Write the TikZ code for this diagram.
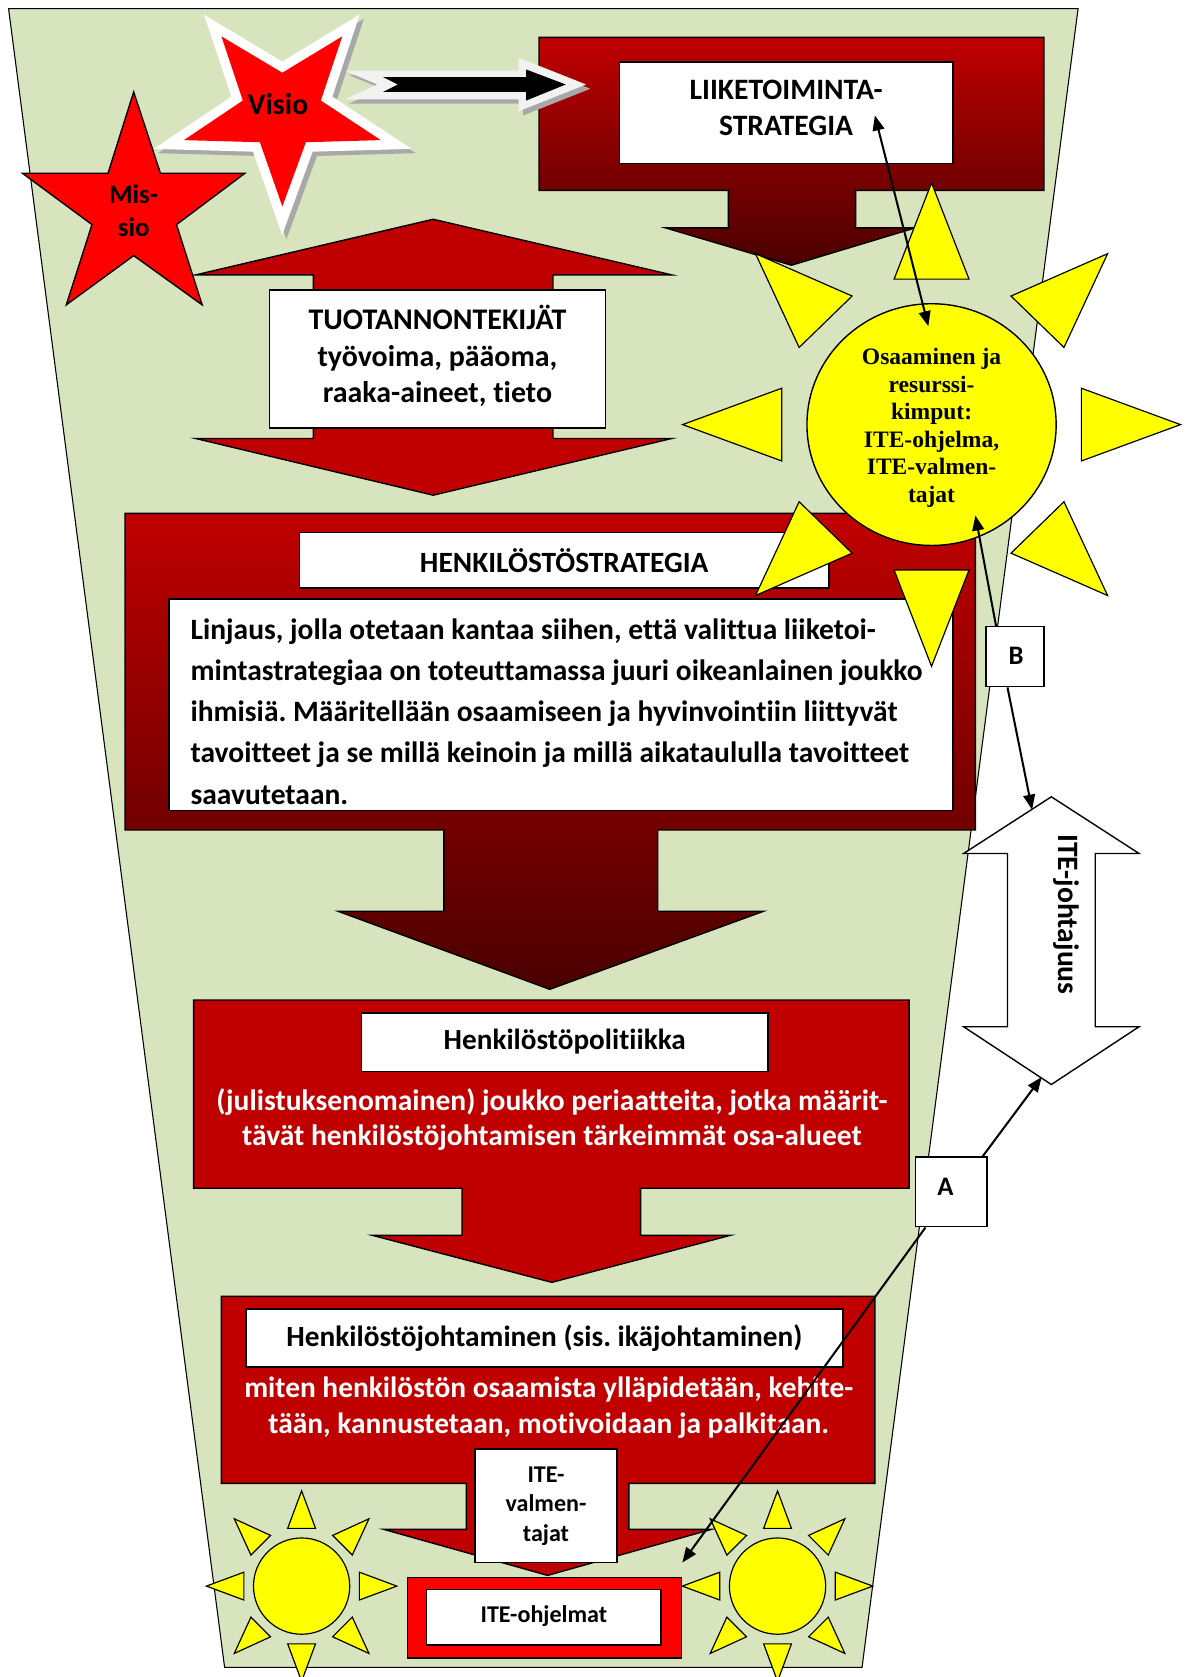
\documentclass[tikz,border=0pt]{standalone}
\usepackage{fontspec}
\setmainfont{Carlito}[Ligatures=NoCommon]
\newfontfamily\timesbf{Liberation Serif}
\usetikzlibrary{arrows.meta,calc,shapes.geometric}
\frenchspacing
\definecolor{bggreen}{HTML}{D7E4BD}
\definecolor{dred}{HTML}{C00000}
\definecolor{deepred}{HTML}{4A0000}
\definecolor{bred}{HTML}{FF0000}
\definecolor{sunyel}{HTML}{FFFF00}
\definecolor{shgray}{HTML}{A8A8A8}
\definecolor{paleg}{HTML}{F2F2F2}
\tikzset{
  outl/.style={draw=black, line width=1.3pt, line join=miter},
  wbox/.style={draw=black, fill=white, line width=1.4pt, inner sep=0pt},
  ray/.style={draw=black, fill=sunyel, line width=1.1pt, line join=miter},
  conn/.style={draw=black, line width=1.9pt, -{Triangle[length=14pt,width=11pt]}},
  dconn/.style={draw=black, line width=1.9pt, {Triangle[length=14pt,width=11pt]}-{Triangle[length=14pt,width=11pt]}},
  txt/.style n args={2}{font=\fontsize{#1}{#2}\selectfont\bfseries\frenchspacing, inner sep=0pt, align=center, text=black},
  wtxt/.style n args={2}{font=\fontsize{#1}{#2}\selectfont\bfseries\frenchspacing, inner sep=0pt, align=center, text=white},
}
\begin{document}
\begin{tikzpicture}[x=1pt,y=-1pt]
\useasboundingbox (0,0) rectangle (1112,1568);
\fill[white] (0,0) rectangle (1112,1568);
% background trapezoid
\draw[fill=bggreen, draw=black, line width=1pt, line join=miter] (8,8) -- (1008,8) -- (806,1559) -- (210,1559) -- cycle;

% LIIKETOIMINTA callout
\draw[outl, top color=dred, bottom color=deepred] (504,35) -- (976,35) -- (976,178) -- (800,178) -- (800,213) -- (856,213) -- (740,248) -- (622,213) -- (681,213) -- (681,178) -- (504,178) -- cycle;
\node[wbox, minimum width=312pt, minimum height=95pt] (liike) at (735,105.5) {};
\node[txt={27.7}{33}] (liiketxt) at (735,101) {LIIKETOIMINTA-\\STRATEGIA};

% Visio arrow
\fill[shgray] (326,70) -- (489,70) -- (489,58) -- (552,83) -- (489,108) -- (489,97) -- (326,97) -- (357,83) -- cycle;
\fill[paleg] (322,66) -- (485,66) -- (485,54) -- (548,79) -- (485,104) -- (485,93) -- (322,93) -- (353,79) -- cycle;
\fill[black] (358,72) -- (492,72) -- (492,65) -- (529,79) -- (492,94) -- (492,86) -- (358,86) -- (372,79) -- cycle;

% TUOTANNONTEKIJAT double arrow
\draw[outl, fill=dred] (405,205) -- (628,257) -- (517,257) -- (517,410) -- (628,410) -- (405,463) -- (183,410) -- (293,410) -- (293,257) -- (183,257) -- cycle;
\node[wbox, minimum width=314pt, minimum height=129pt] (tuot) at (409,335.5) {};
\node[txt={28}{34}] (tuottxt) at (409,333) {TUOTANNONTEKIJÄT\\työvoima, pääoma,\\raaka-aineet, tieto};

% Missio star
\draw[outl, fill=bred] (125,86) -- (150,162) -- (229,162) -- (165,210) -- (189,285) -- (125,239) -- (62,285) -- (86,210) -- (21,162) -- (101,162) -- cycle;
\node[txt={25}{30}] (missio) at (125,197) {Mis-\\sio};

% Visio star (shadow, white border, red)
\begin{scope}[shift={(4,4)}]
\draw[shgray, line width=18pt, line join=miter] (207,34) -- (264,68) -- (320,34) -- (300,94) -- (356,131) -- (286,133) -- (264,193) -- (243,133) -- (172,131) -- (227,94) -- cycle;
\end{scope}
\draw[white, line width=18pt, line join=miter] (207,34) -- (264,68) -- (320,34) -- (300,94) -- (356,131) -- (286,133) -- (264,193) -- (243,133) -- (172,131) -- (227,94) -- cycle;
\fill[bred] (207,34) -- (264,68) -- (320,34) -- (300,94) -- (356,131) -- (286,133) -- (264,193) -- (243,133) -- (172,131) -- (227,94) -- cycle;
\node[txt={28}{30}] (visio) at (260,97) {Visio};

% HENKILOSTOSTRATEGIA callout
\draw[outl, top color=dred, bottom color=deepred] (117,480) -- (912,480) -- (912,776) -- (615,776) -- (615,852) -- (714,852) -- (514,925) -- (316,852) -- (415,852) -- (415,776) -- (117,776) -- cycle;
\node[wbox, minimum width=495pt, minimum height=52pt] (hstitle) at (527.5,524) {};
\node[txt={27.5}{30}] (hstitletxt) at (527.5,524) {HENKILÖSTÖSTRATEGIA};
\node[wbox, minimum width=733pt, minimum height=198pt] (hsbody) at (524.5,659) {};
\begin{scope}
\clip (159.5,561.5) rectangle (889.5,757);
\node[font=\fontsize{27.6}{38.6}\selectfont\bfseries\frenchspacing, inner sep=0pt, align=left, anchor=north west] (hsbodytxt) at (178,578) {Linjaus, jolla otetaan kantaa siihen, että valittua liiketoi-\\mintastrategiaa on toteuttamassa juuri oikeanlainen joukko\\ihmisiä. Määritellään osaamiseen ja hyvinvointiin liittyvät\\tavoitteet ja se millä keinoin ja millä aikataululla tavoitteet\\saavutetaan.};
\end{scope}

% Henkilostopolitiikka callout
\draw[outl, fill=dred] (181,935) -- (850,935) -- (850,1111) -- (599,1111) -- (599,1155) -- (683,1155) -- (516,1199) -- (348,1155) -- (432,1155) -- (432,1111) -- (181,1111) -- cycle;
\node[wbox, minimum width=380pt, minimum height=55pt] (hptitle) at (528,974.5) {};
\node[txt={27.3}{30}] (hptitletxt) at (528,974) {Henkilöstöpolitiikka};
\node[wtxt={27.6}{33}] (hptxt) at (516,1046.5) {(julistuksenomainen) joukko periaatteita, jotka määrit-\\tävät henkilöstöjohtamisen tärkeimmät osa-alueet};

% Henkilostojohtaminen callout
\draw[outl, fill=dred] (207,1212) -- (818,1212) -- (818,1387) -- (588,1387) -- (588,1430) -- (665,1430) -- (512,1473) -- (359,1430) -- (436,1430) -- (436,1387) -- (207,1387) -- cycle;
\node[wbox, minimum width=558pt, minimum height=54pt] (hjtitle) at (509,1251) {};
\node[txt={27.4}{30}] (hjtitletxt) at (509,1251) {Henkilöstöjohtaminen (sis. ikäjohtaminen)};
\node[wtxt={27.5}{34}] (hjtxt) at (513,1316) {miten henkilöstön osaamista ylläpidetään, kehite-\\tään, kannustetaan, motivoidaan ja palkitaan.};

% ITE-valmentajat and ITE-ohjelmat
\node[wbox, minimum width=133pt, minimum height=106pt] (valm) at (510.5,1408) {};
\node[txt={22.5}{27.5}] (valmtxt) at (510.5,1408) {ITE-\\valmen-\\tajat};
\node[draw=black, fill=bred, line width=1.4pt, minimum width=256pt, minimum height=75pt, inner sep=0pt] (ohjout) at (509,1512.5) {};
\node[wbox, minimum width=219pt, minimum height=52pt] (ohj) at (508.5,1512) {};
\node[txt={22.5}{26}] (ohjtxt) at (508.5,1511) {ITE-ohjelmat};

% small suns
\foreach \cx in {282,727} {
  \foreach \a in {0,45,...,315} {
    \draw[ray] ({\cx+54*cos(\a)+13*sin(\a)},{1483-54*sin(\a)+13*cos(\a)}) -- ({\cx+89*cos(\a)},{1483-89*sin(\a)}) -- ({\cx+54*cos(\a)-13*sin(\a)},{1483-54*sin(\a)-13*cos(\a)}) -- cycle;
  }
  \draw[ray] (\cx,1483) circle [radius=45];
}

% big sun
\foreach \a in {0,45,...,315} {
  \draw[ray] ({871+1.03*(136*cos(\a)+34*sin(\a))},{397-136*sin(\a)+34*cos(\a)}) -- ({871+1.03*226*cos(\a)},{397-226*sin(\a)}) -- ({871+1.03*(136*cos(\a)-34*sin(\a))},{397-136*sin(\a)-34*cos(\a)}) -- cycle;
}
\node[ellipse, draw=black, fill=sunyel, line width=1.3pt, minimum width=233pt, minimum height=226pt, inner sep=0pt] (sun) at (871,397) {};
\node[font=\timesbf\fontsize{22}{25.7}\selectfont\bfseries, align=center, inner sep=0pt] (suntxt) at (871,400) {Osaaminen ja\\resurssi-\\kimput:\\ITE-ohjelma,\\ITE-valmen-\\tajat};

% ITE-johtajuus double arrow
\draw[outl, fill=white] (983,745) -- (1065,798) -- (1024,798) -- (1024,960) -- (1065,960) -- (983,1014) -- (901,960) -- (942,960) -- (942,798) -- (901,798) -- cycle;
\node[txt={27.7}{30}, rotate=-90] (johtxt) at (997,855) {ITE-johtajuus};

% A and B boxes
\node[wbox, minimum width=54pt, minimum height=56pt] (bbox) at (949,614) {};
\node[txt={25}{28}] (btxt) at (950,613) {B};
\node[wbox, minimum width=67pt, minimum height=65pt] (abox) at (889.5,1114.5) {};
\node[txt={25}{28}] (atxt) at (884,1110) {A};

% connectors
\coordinate (lkend) at (818,108);
\coordinate (sunend) at (868,305);
\coordinate (sunB) at (912,482);
\coordinate (joTop) at (965,757);
\coordinate (joBot) at (974,1007);
\coordinate (ohjTip) at (638,1461);
\draw[dconn] (lkend) -- (sunend);
\draw[conn] ($(bbox.north west)+(10,0)$) -- (sunB);
\draw[conn] ($(bbox.south)+(-7,0)$) -- (joTop);
\draw[conn] ($(abox.north east)+(-5,0)$) -- (joBot);
\draw[conn] ($(abox.south west)+(10,0)$) -- (ohjTip);
\end{tikzpicture}
\end{document}
